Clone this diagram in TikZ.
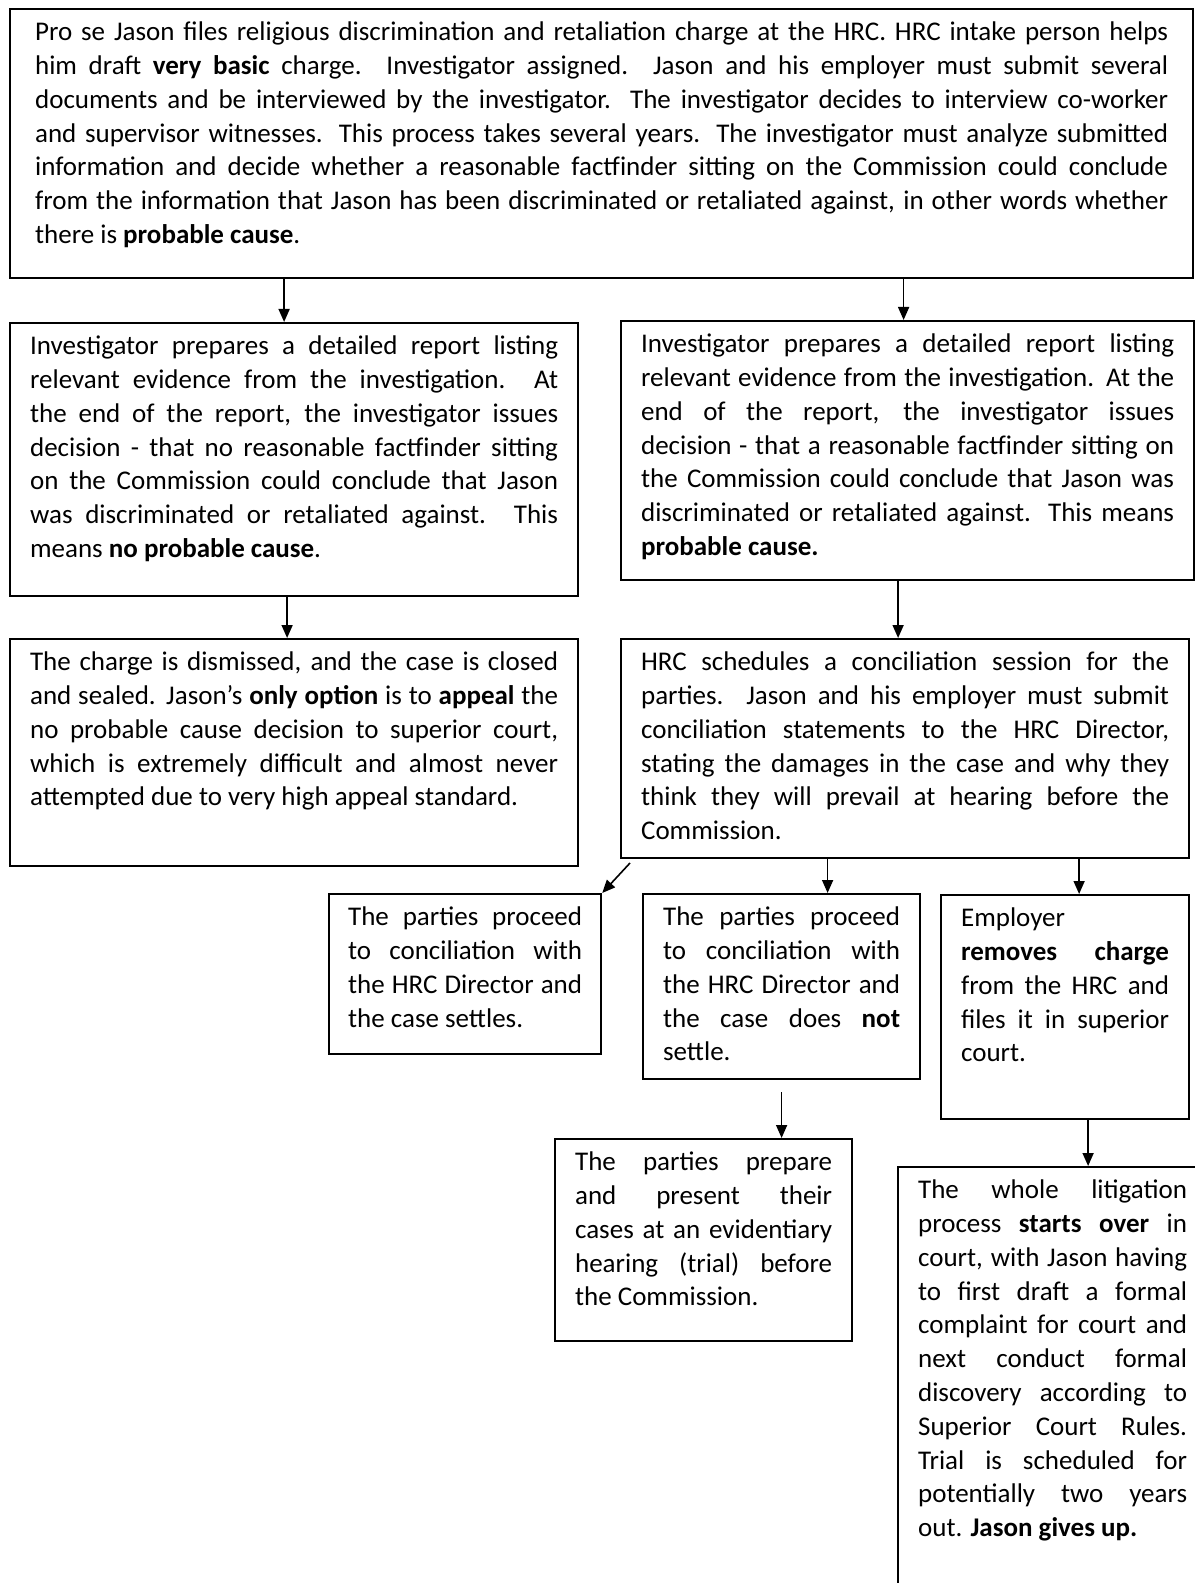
\documentclass[tikz,border=0pt]{standalone}
\usepackage{fontspec}
\setmainfont{Carlito}
\usetikzlibrary{arrows.meta, positioning, calc}
\setlength{\parindent}{0pt}
\tolerance=10000 \hbadness=10000 \hyphenpenalty=10000

\newcommand{\gap}[1]{\par\vskip#1\hrule height 0pt depth 0pt width 0pt}

\begin{document}
\begin{tikzpicture}[x=0.5pt, y=-0.5pt]
  \tikzstyle{box} = [rectangle, draw, line width=1.1pt, anchor=north west, align=justify, inner xsep=10pt, inner ysep=4pt, font=\fontsize{13.5}{16.9}\selectfont]
  \tikzstyle{arrow} = [line width=0.8pt, -{Triangle[length=6.5pt, width=5.5pt]}]

  \useasboundingbox (0,0) rectangle (1194,1583);

  \node[box, text width=566.5pt, inner xsep=12.5pt] (charge) at (9,8) {\strut Pro se Jason files religious discrimination and retaliation charge at the HRC. HRC intake person helps\linebreak
    him draft \textbf{very basic} charge.  Investigator assigned.  Jason and his employer must submit several\linebreak
    documents and be interviewed by the investigator.  The investigator decides to interview co-worker\linebreak
    and supervisor witnesses.  This process takes several years.  The investigator must analyze submitted\linebreak
    information and decide whether a reasonable factfinder sitting on the Commission could conclude\linebreak
    from the information that Jason has been discriminated or retaliated against, in other words whether\linebreak
    there is \textbf{probable cause}.\strut\gap{8pt}};

  \node[box, text width=264pt] (nocause) at (9,322) {\strut Investigator prepares a detailed report listing\linebreak
    relevant evidence from the investigation.  At\linebreak
    the end of the report, the investigator issues\linebreak
    decision - that no reasonable factfinder sitting\linebreak
    on the Commission could conclude that Jason\linebreak
    was discriminated or retaliated against.  This\linebreak
    means \textbf{no probable cause}.\strut\gap{10pt}};

  \node[box, text width=266.5pt] (cause) at (620,320) {\strut Investigator prepares a detailed report listing\linebreak
    relevant evidence from the investigation. At the\linebreak
    end of the report, the investigator issues\linebreak
    decision - that a reasonable factfinder sitting on\linebreak
    the Commission could conclude that Jason was\linebreak
    discriminated or retaliated against. This means\linebreak
    \textbf{probable cause.}\strut\gap{3pt}};

  \node[box, text width=264pt] (dismissed) at (9,638) {\strut The charge is dismissed, and the case is closed\linebreak
    and sealed.  Jason’s \textbf{only option} is to \textbf{appeal} the\linebreak
    no probable cause decision to superior court,\linebreak
    which is extremely difficult and almost never\linebreak
    attempted due to very high appeal standard.\strut\gap{21pt}};

  \node[box, text width=264pt] (conciliation) at (620,638) {\strut HRC schedules a conciliation session for the\linebreak
    parties.  Jason and his employer must submit\linebreak
    conciliation statements to the HRC Director,\linebreak
    stating the damages in the case and why they\linebreak
    think they will prevail at hearing before the\linebreak
    Commission.\strut};

  \node[box, text width=117pt, inner xsep=9.5pt] (settles) at (328,893) {\strut The parties proceed\linebreak
    to conciliation with\linebreak
    the HRC Director and\linebreak
    the case settles.\strut\gap{4.5pt}};

  \node[box, text width=118.5pt] (nosettle) at (642,893) {\strut The parties proceed\linebreak
    to conciliation with\linebreak
    the HRC Director and\linebreak
    the case does \textbf{not}\linebreak
    settle.\strut};

  \node[box, text width=104pt] (removes) at (940,894) {\strut Employer\linebreak
    \textbf{removes charge}\linebreak
    from the HRC and\linebreak
    files it in superior\linebreak
    court.\strut\gap{19.5pt}};

  \node[box, text width=128.5pt] (hearing) at (554,1138) {\strut The parties prepare\linebreak
    and present their\linebreak
    cases at an evidentiary\linebreak
    hearing (trial) before\linebreak
    the Commission.\strut\gap{8.5pt}};

  \node[box, text width=134.5pt] (startsover) at (897,1166) {\strut The whole litigation\linebreak
    process \textbf{starts over} in\linebreak
    court, with Jason having\linebreak
    to first draft a formal\linebreak
    complaint for court and\linebreak
    next conduct formal\linebreak
    discovery according to\linebreak
    Superior Court Rules.\linebreak
    Trial is scheduled for\linebreak
    potentially two years\linebreak
    out. \textbf{Jason gives up.}\strut\gap{40pt}};

  % connectors
  \draw[arrow] ([xshift=-5pt]nocause.north |- charge.south) -- ([xshift=-5pt]nocause.north);
  \draw[arrow] ([xshift=-2pt]cause.north |- charge.south) -- ([xshift=-2pt]cause.north);
  \draw[arrow] ([xshift=-3.5pt]dismissed.north |- nocause.south) -- ([xshift=-3.5pt]dismissed.north);
  \draw[arrow] ([xshift=-3.5pt]conciliation.north |- cause.south) -- ([xshift=-3.5pt]conciliation.north);
  \draw[arrow] ([xshift=5pt, yshift=-2pt]conciliation.south west) -- (settles.north east);
  \draw[arrow] ([xshift=23pt]nosettle.north |- conciliation.south) -- ([xshift=23pt]nosettle.north);
  \draw[arrow] ([xshift=7pt]removes.north |- conciliation.south) -- ([xshift=7pt]removes.north);
  \draw[arrow, shorten <=6pt] (nosettle.south) -- (nosettle.south |- hearing.north);
  \draw[arrow] ([xshift=11.5pt]removes.south) -- ([xshift=11.5pt]removes.south |- startsover.north);
\end{tikzpicture}
\end{document}
